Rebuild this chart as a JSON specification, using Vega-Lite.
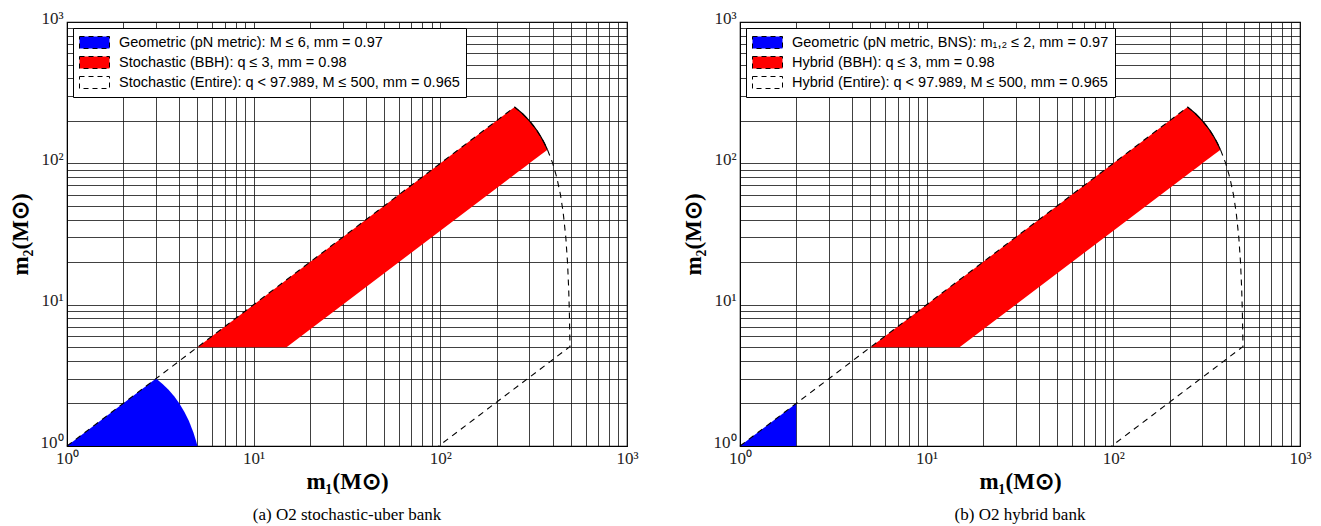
{
  "$schema": "https://vega.github.io/schema/vega-lite/v6.json",
  "background": "white",
  "padding": {"left": 8, "top": 8, "right": 5, "bottom": 5},
  "bounds": "flush",
  "spacing": 113,
  "datasets": {
    "blueA": [
      {"m1": 1, "m2": 1, "m2lo": 1, "series": "geometric"},
      {"m1": 3, "m2": 3, "m2lo": 1, "series": "geometric"},
      {"m1": 3.25, "m2": 2.75, "m2lo": 1, "series": "geometric"},
      {"m1": 3.5, "m2": 2.5, "m2lo": 1, "series": "geometric"},
      {"m1": 3.75, "m2": 2.25, "m2lo": 1, "series": "geometric"},
      {"m1": 4, "m2": 2, "m2lo": 1, "series": "geometric"},
      {"m1": 4.25, "m2": 1.75, "m2lo": 1, "series": "geometric"},
      {"m1": 4.5, "m2": 1.5, "m2lo": 1, "series": "geometric"},
      {"m1": 4.75, "m2": 1.25, "m2lo": 1, "series": "geometric"},
      {"m1": 4.9, "m2": 1.1, "m2lo": 1, "series": "geometric"},
      {"m1": 5, "m2": 1, "m2lo": 1, "series": "geometric"}
    ],
    "blueB": [
      {"m1": 1, "m2": 1, "m2lo": 1, "series": "geometric"},
      {"m1": 2, "m2": 2, "m2lo": 1, "series": "geometric"}
    ],
    "red": [
      {"m1": 5, "m2": 5, "m2lo": 5, "series": "bbh"},
      {"m1": 15, "m2": 15, "m2lo": 5, "series": "bbh"},
      {"m1": 250, "m2": 250, "m2lo": 83.33, "series": "bbh"},
      {"m1": 260, "m2": 240, "m2lo": 86.67, "series": "bbh"},
      {"m1": 275, "m2": 225, "m2lo": 91.67, "series": "bbh"},
      {"m1": 290, "m2": 210, "m2lo": 96.67, "series": "bbh"},
      {"m1": 300, "m2": 200, "m2lo": 100, "series": "bbh"},
      {"m1": 315, "m2": 185, "m2lo": 105, "series": "bbh"},
      {"m1": 330, "m2": 170, "m2lo": 110, "series": "bbh"},
      {"m1": 345, "m2": 155, "m2lo": 115, "series": "bbh"},
      {"m1": 360, "m2": 140, "m2lo": 120, "series": "bbh"},
      {"m1": 375, "m2": 125, "m2lo": 125, "series": "bbh"}
    ],
    "entire": [
      {"m1": 1, "m2": 1, "k": 0, "series": "entire"},
      {"m1": 250, "m2": 250, "k": 1, "series": "entire"},
      {"m1": 275, "m2": 225, "k": 2, "series": "entire"},
      {"m1": 300, "m2": 200, "k": 3, "series": "entire"},
      {"m1": 325, "m2": 175, "k": 4, "series": "entire"},
      {"m1": 350, "m2": 150, "k": 5, "series": "entire"},
      {"m1": 375, "m2": 125, "k": 6, "series": "entire"},
      {"m1": 400, "m2": 100, "k": 7, "series": "entire"},
      {"m1": 420, "m2": 80, "k": 8, "series": "entire"},
      {"m1": 440, "m2": 60, "k": 9, "series": "entire"},
      {"m1": 455, "m2": 45, "k": 10, "series": "entire"},
      {"m1": 470, "m2": 30, "k": 11, "series": "entire"},
      {"m1": 480, "m2": 20, "k": 12, "series": "entire"},
      {"m1": 487, "m2": 13, "k": 13, "series": "entire"},
      {"m1": 491, "m2": 9, "k": 14, "series": "entire"},
      {"m1": 494.95, "m2": 5.05, "k": 15, "series": "entire"},
      {"m1": 97.989, "m2": 1, "k": 16, "series": "entire"}
    ]
  },
  "config": {
    "view": {"stroke": "black", "strokeWidth": 1.2},
    "axis": {
      "labelFont": "Liberation Serif", "titleFont": "Liberation Serif",
      "labelFontSize": 17, "titleFontSize": 23, "titleFontWeight": "bold",
      "labelColor": "#222", "titleColor": "black",
      "gridColor": "#111", "gridOpacity": 0.8, "gridWidth": 1,
      "domainColor": "black", "ticks": false, "labelOverlap": false, "labelFlush": false
    },
    "legend": {
      "orient": "top-left", "offset": 6, "padding": 6,
      "strokeColor": "black", "fillColor": "white",
      "labelFont": "Liberation Sans", "labelFontSize": 14.5, "labelColor": "black",
      "rowPadding": 3, "labelOffset": 16, "labelLimit": 600, "symbolOffset": 7,
      "symbolType": "M-1.875,-0.75H1.875V0.75H-1.875Z", "symbolSize": 256,
      "symbolStrokeWidth": 1, "symbolStrokeColor": "black", "symbolDash": [5, 4], "symbolOpacity": 1
    },
    "title": {"font": "Liberation Serif", "fontSize": 17, "fontWeight": "normal", "color": "black"}
  },
  "resolve": {"scale": {"color": "independent"}, "legend": {"color": "independent"}},
  "hconcat": [
    {
      "width": 560, "height": 424,
      "title": {"text": "(a) O2 stochastic-uber bank", "orient": "bottom", "offset": 14},
      "encoding": {
        "x": {"field": "m1", "type": "quantitative", "title": "m₁(M⊙)",
          "scale": {"type": "log", "domain": [1, 1000], "nice": false},
          "axis": {"values": [1,2,3,4,5,6,7,8,9,10,20,30,40,50,60,70,80,90,100,200,300,400,500,600,700,800,900,1000],
            "labelExpr": "datum.value == 1 ? '10⁰' : datum.value == 10 ? '10¹' : datum.value == 100 ? '10²' : datum.value == 1000 ? '10³' : ''",
            "labelPadding": 4, "titlePadding": 4}},
        "y": {"field": "m2", "type": "quantitative", "title": "m₂(M⊙)",
          "scale": {"type": "log", "domain": [1, 1000], "nice": false},
          "axis": {"values": [1,2,3,4,5,6,7,8,9,10,20,30,40,50,60,70,80,90,100,200,300,400,500,600,700,800,900,1000],
            "labelExpr": "datum.value == 1 ? '10⁰' : datum.value == 10 ? '10¹' : datum.value == 100 ? '10²' : datum.value == 1000 ? '10³' : ''",
            "labelPadding": 4, "labelOffset": -4, "titlePadding": 8}}
      },
      "layer": [
        {"data": {"name": "blueA"}, "mark": {"type": "area", "opacity": 1},
          "encoding": {"y2": {"field": "m2lo"},
            "color": {"field": "series", "type": "nominal",
              "scale": {"domain": ["geometric", "bbh", "entire"], "range": ["#0000ff", "#ff0000", "white"]},
              "legend": {"title": null,
                "labelExpr": "datum.value === 'geometric' ? 'Geometric (pN metric): M ≤ 6, mm = 0.97' : datum.value === 'bbh' ? 'Stochastic (BBH): q ≤ 3, mm = 0.98' : 'Stochastic (Entire): q < 97.989, M ≤ 500, mm = 0.965'"}}}},
        {"data": {"name": "red"}, "mark": {"type": "area", "opacity": 1},
          "encoding": {"y2": {"field": "m2lo"}, "color": {"field": "series", "type": "nominal", "legend": null}}},
        {"data": {"name": "red"}, "transform": [{"filter": "datum.m1 >= 250"}],
          "mark": {"type": "line", "strokeWidth": 1.2, "color": "black"}, "encoding": {}},
        {"data": {"name": "entire"}, "mark": {"type": "line", "strokeDash": [6, 5], "strokeWidth": 1.1, "color": "black"},
          "encoding": {"order": {"field": "k", "type": "quantitative"}}}
      ]
    },
    {
      "width": 560, "height": 424,
      "title": {"text": "(b) O2 hybrid bank", "orient": "bottom", "offset": 14},
      "encoding": {
        "x": {"field": "m1", "type": "quantitative", "title": "m₁(M⊙)",
          "scale": {"type": "log", "domain": [1, 1000], "nice": false},
          "axis": {"values": [1,2,3,4,5,6,7,8,9,10,20,30,40,50,60,70,80,90,100,200,300,400,500,600,700,800,900,1000],
            "labelExpr": "datum.value == 1 ? '10⁰' : datum.value == 10 ? '10¹' : datum.value == 100 ? '10²' : datum.value == 1000 ? '10³' : ''",
            "labelPadding": 4, "titlePadding": 4}},
        "y": {"field": "m2", "type": "quantitative", "title": "m₂(M⊙)",
          "scale": {"type": "log", "domain": [1, 1000], "nice": false},
          "axis": {"values": [1,2,3,4,5,6,7,8,9,10,20,30,40,50,60,70,80,90,100,200,300,400,500,600,700,800,900,1000],
            "labelExpr": "datum.value == 1 ? '10⁰' : datum.value == 10 ? '10¹' : datum.value == 100 ? '10²' : datum.value == 1000 ? '10³' : ''",
            "labelPadding": 4, "labelOffset": -4, "titlePadding": 8}}
      },
      "layer": [
        {"data": {"name": "blueB"}, "mark": {"type": "area", "opacity": 1},
          "encoding": {"y2": {"field": "m2lo"},
            "color": {"field": "series", "type": "nominal",
              "scale": {"domain": ["geometric", "bbh", "entire"], "range": ["#0000ff", "#ff0000", "white"]},
              "legend": {"title": null,
                "labelExpr": "datum.value === 'geometric' ? 'Geometric (pN metric, BNS): m₁,₂ ≤ 2, mm = 0.97' : datum.value === 'bbh' ? 'Hybrid (BBH): q ≤ 3, mm = 0.98' : 'Hybrid (Entire): q < 97.989, M ≤ 500, mm = 0.965'"}}}},
        {"data": {"name": "red"}, "mark": {"type": "area", "opacity": 1},
          "encoding": {"y2": {"field": "m2lo"}, "color": {"field": "series", "type": "nominal", "legend": null}}},
        {"data": {"name": "red"}, "transform": [{"filter": "datum.m1 >= 250"}],
          "mark": {"type": "line", "strokeWidth": 1.2, "color": "black"}, "encoding": {}},
        {"data": {"name": "entire"}, "mark": {"type": "line", "strokeDash": [6, 5], "strokeWidth": 1.1, "color": "black"},
          "encoding": {"order": {"field": "k", "type": "quantitative"}}}
      ]
    }
  ]
}
